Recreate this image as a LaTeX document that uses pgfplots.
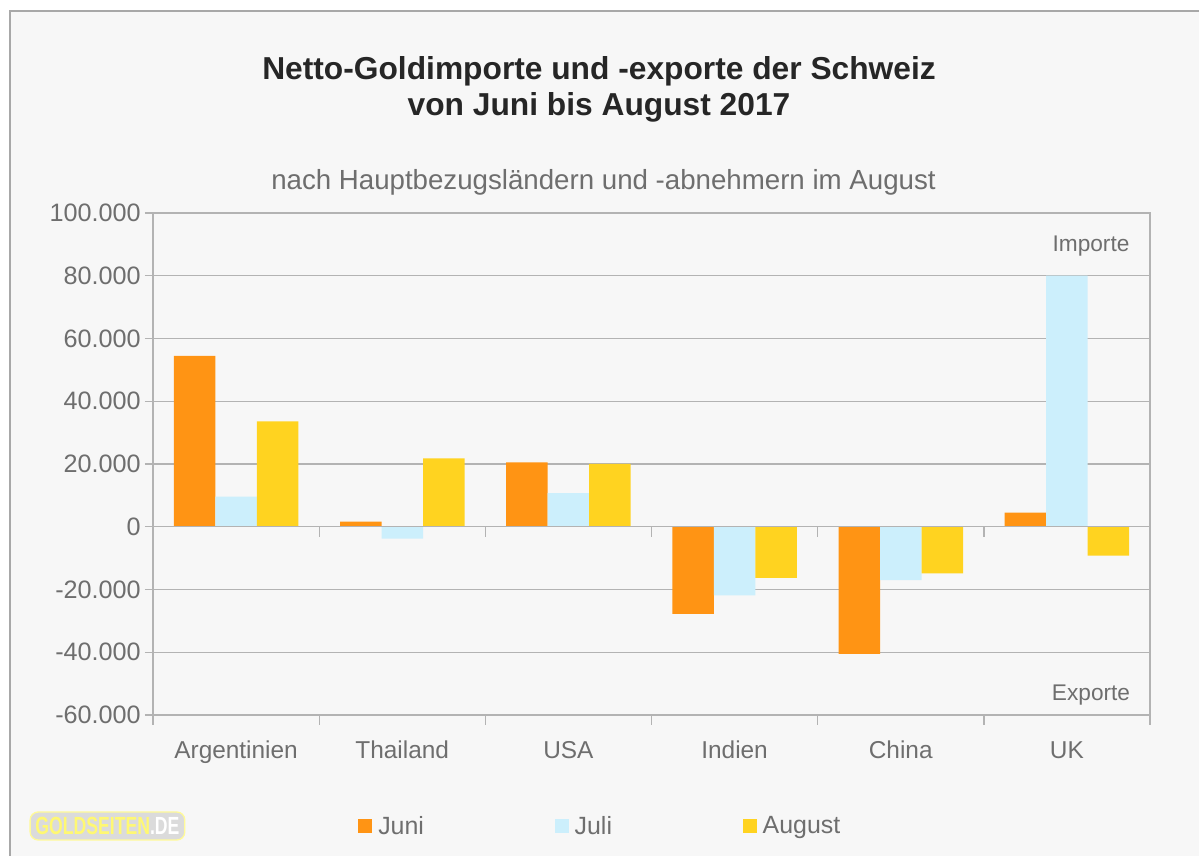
\documentclass[border=0pt]{standalone}
\usepackage{pgfplots}
\pgfplotsset{compat=1.18}
\usepackage{graphicx}
\usepackage{fontspec}
\setmainfont{Liberation Sans}
\definecolor{juni}{HTML}{FF9414}
\definecolor{juli}{HTML}{CCEFFC}
\definecolor{aug}{HTML}{FFD320}
\definecolor{gridc}{HTML}{B3B3B3}
\definecolor{txt}{HTML}{6E6E6E}
\definecolor{bgc}{HTML}{F7F7F7}
\definecolor{framec}{HTML}{A8A8A8}
\begin{document}
\begin{tikzpicture}
\useasboundingbox (0,0) rectangle (899.25pt,642pt);
\fill[white] (0,0) rectangle (899.25pt,642pt);
\filldraw[fill=bgc,draw=framec,line width=1.2pt] (7.5pt,-10pt) rectangle (910pt,633.75pt);
% titles
\node[font=\bfseries\fontsize{23.8}{26.5}\selectfont,align=center,text=black!85] at (449.25pt,{(856-89.5)*0.75pt}) {Netto-Goldimporte und -exporte der Schweiz\\von Juni bis August 2017};
\node[font=\fontsize{20.75}{24}\selectfont,text=txt] at (452.6pt,{(856-182)*0.75pt}) {nach Hauptbezugsländern und -abnehmern im August};
% logo
\node[fill=gray!28,rounded corners=6pt,inner sep=2pt,minimum width=116pt,minimum height=21pt,draw=yellow!40,line width=1pt] at (80.6pt,{(856-826)*0.75pt}) {\resizebox{108pt}{13pt}{\bfseries\textcolor{yellow!55}{GOLDSEITEN}\textcolor{white}{.DE}}};
\begin{axis}[
  at={(114.75pt,105.75pt)}, anchor=south west,
  scale only axis, width=747.75pt, height=376.5pt,
  xmin=-0.5, xmax=5.5, ymin=-60000, ymax=100000,
  scaled y ticks=false,
  ybar=0pt, bar width=31.125pt,
  axis line style={draw=gridc,line width=1pt},
  ymajorgrids, grid style={draw=gridc,line width=1pt},
  ytick={-60000,-40000,-20000,0,20000,40000,60000,80000,100000},
  yticklabels={-60.000,-40.000,-20.000,0,20.000,40.000,60.000,80.000,100.000},
  xtick={0,1,2,3,4,5},
  xticklabels={Argentinien,Thailand,USA,Indien,China,UK},
  minor xtick={-0.5,0.5,1.5,2.5,3.5,4.5,5.5},
  tick align=outside,
  major tick length=6pt, minor tick length=7.5pt,
  x tick style={draw=none},
  minor x tick style={draw=gridc,line width=1pt},
  y tick style={draw=gridc,line width=1pt},
  xtick pos=bottom, ytick pos=left,
  /pgf/number format/assume math mode=true,
  yticklabel style={inner sep=0pt,xshift=-3pt,font=\fontsize{18.9}{22}\selectfont,text=txt},
  xticklabel style={yshift=-10pt,font=\fontsize{18.3}{21}\selectfont,text=txt,text height=13pt,text depth=4pt},
  legend columns=3,
  legend style={at={(0.2056,-0.2211)},anchor=west,draw=none,fill=none,inner sep=0pt,
    font=\fontsize{18.7}{21}\selectfont,text=txt,
    /tikz/every odd column/.append style={column sep=2.5pt},
    /tikz/every even column/.append style={column sep=96pt}},
  legend image code/.code={\fill[#1] (0pt,-5.25pt) rectangle (10.5pt,5.25pt);},
  legend cell align=left,
  clip=false,
]
\addplot[fill=juni,draw=none] coordinates {(0,54500) (1,1600) (2,20500) (3,-27800) (4,-40500) (5,4500)};
\addlegendentry{Juni}
\addplot[fill=juli,draw=none] coordinates {(0,9600) (1,-3800) (2,10700) (3,-21900) (4,-17000) (5,80000)};
\addlegendentry{Juli}
\addplot[fill=aug,draw=none] coordinates {(0,33600) (1,21800) (2,20000) (3,-16300) (4,-14900) (5,-9200)};
\addlegendentry{August}
\draw[gridc,line width=1pt] (axis cs:-0.5,0) -- (axis cs:5.5,0);
\pgfplotsinvokeforeach{-0.5,0.5,1.5,2.5,3.5,4.5,5.5}{
  \draw[gridc,line width=1pt] (axis cs:#1,0) -- ++(0pt,-7.5pt);
}
\node[font=\fontsize{17}{20}\selectfont,text=txt] at (axis cs:5.145,89600) {Importe};
\node[font=\fontsize{17}{20}\selectfont,text=txt] at (axis cs:5.145,-53800) {Exporte};
\end{axis}
\end{tikzpicture}
\end{document}
